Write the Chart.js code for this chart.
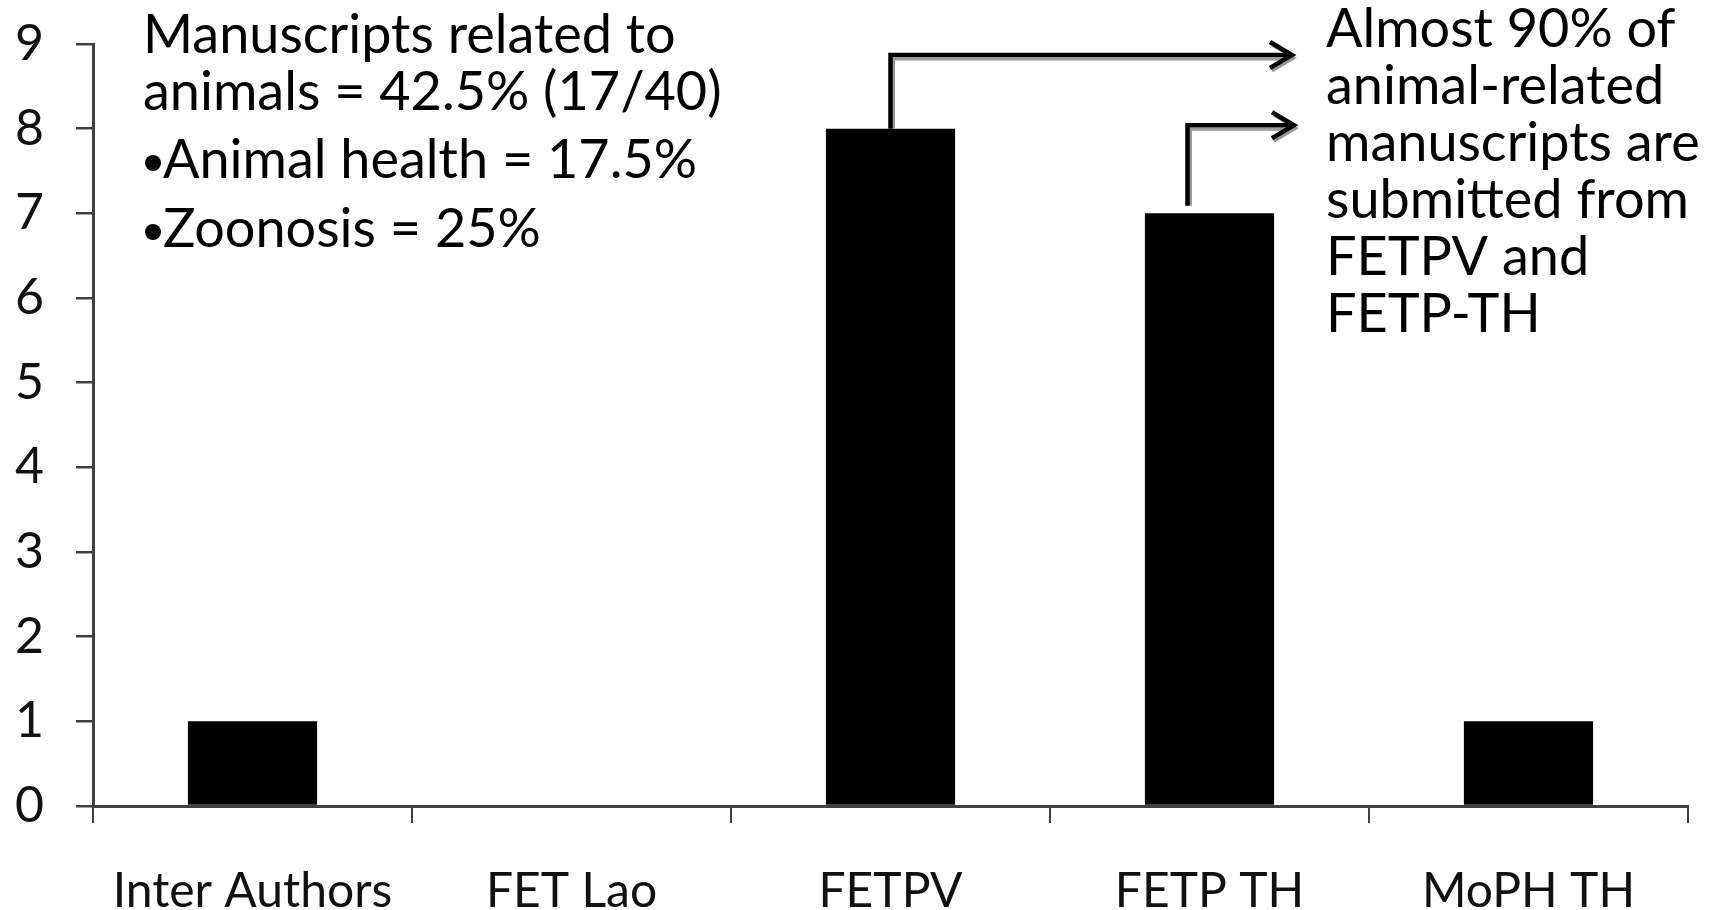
<!DOCTYPE html>
<html>
<head>
<meta charset="utf-8">
<script src="https://cdn.jsdelivr.net/npm/chart.js@4.4.1/dist/chart.umd.min.js"></script>
<style>
  html, body { margin: 0; padding: 0; background: #fff; }
  #wrap { width: 1719px; height: 910px; position: relative; }
</style>
</head>
<body>
<div id="wrap"><canvas id="c"></canvas></div>
<script>
const categories = ['Inter Authors', 'FET Lao', 'FETPV', 'FETP TH', 'MoPH TH'];
const manuscripts = [1, 0, 8, 7, 1];
const yMin = 0, yMax = 9, yStep = 1;
const noteLeft = ['Manuscripts related to', 'animals = 42.5% (17/40)', 'Animal health = 17.5%', 'Zoonosis = 25%'];
const noteLeftBullet = [false, false, true, true];
const noteRight = ['Almost 90% of', 'animal-related', 'manuscripts are', 'submitted from', 'FETPV and', 'FETP-TH'];

const FONT = 'Lato, "Open Sans", sans-serif';
const AXIS = '#404040';

function arrowHead(ctx, x, y) {
  ctx.beginPath();
  ctx.moveTo(x - 22, y - 13);
  ctx.lineTo(x, y);
  ctx.lineTo(x - 22, y + 13);
  ctx.stroke();
}

const annotations = {
  id: 'annotations',
  afterDatasetsDraw(chart) {
    const ctx = chart.ctx;
    const xs = chart.scales.x, ys = chart.scales.y;
    ctx.save();
    ctx.fillStyle = '#000';
    ctx.textBaseline = 'middle';
    ctx.textAlign = 'left';
    ctx.font = '54px ' + FONT;
    const leftY = [36, 93, 161, 230];
    noteLeft.forEach((t, i) => {
      if (noteLeftBullet[i]) {
        ctx.beginPath();
        ctx.arc(153, leftY[i] + 2, 8, 0, Math.PI * 2);
        ctx.fill();
        ctx.fillText(t, 163, leftY[i]);
      } else {
        ctx.fillText(t, 143, leftY[i]);
      }
    });
    noteRight.forEach((t, i) => ctx.fillText(t, 1326, 30 + i * 57));

    const arrows = [
      { cat: 2, dx: 0, from: manuscripts[2], to: 8.87, tip: 1292 },
      { cat: 3, dx: -22, from: manuscripts[3] + 0.09, to: 8.04, tip: 1294 }
    ];
    ctx.lineCap = 'butt';
    ctx.lineJoin = 'miter';
    arrows.forEach(a => {
      const x = xs.getPixelForValue(a.cat) + a.dx;
      const y0 = ys.getPixelForValue(a.from);
      const y1 = ys.getPixelForValue(a.to);
      ctx.strokeStyle = '#9a9a9a';
      ctx.lineWidth = 3;
      ctx.beginPath();
      ctx.moveTo(x + 3, y0);
      ctx.lineTo(x + 3, y1 + 4);
      ctx.lineTo(a.tip - 8, y1 + 4);
      ctx.stroke();
      arrowHead(ctx, a.tip + 2, y1 + 3);
      ctx.strokeStyle = '#000';
      ctx.lineWidth = 4.5;
      ctx.beginPath();
      ctx.moveTo(x, y0);
      ctx.lineTo(x, y1);
      ctx.lineTo(a.tip - 2, y1);
      ctx.stroke();
      arrowHead(ctx, a.tip, y1);
    });
    ctx.restore();
  }
};

new Chart(document.getElementById('c'), {
  type: 'bar',
  data: {
    labels: categories,
    datasets: [{
      data: manuscripts,
      backgroundColor: '#000',
      borderWidth: 0,
      categoryPercentage: 1,
      barPercentage: 0.405
    }]
  },
  options: {
    responsive: true,
    maintainAspectRatio: false,
    animation: false,
    devicePixelRatio: 1,
    layout: { padding: { top: 44, right: 31, left: 0, bottom: 0 } },
    plugins: { legend: { display: false }, tooltip: { enabled: false } },
    scales: {
      x: {
        afterFit(s) { s.height = 104; },
        grid: { offset: true, drawOnChartArea: false, drawTicks: true, tickLength: 17, color: AXIS, lineWidth: 2 },
        border: { color: AXIS, width: 3 },
        ticks: { color: '#111', padding: 40, font: { family: FONT, size: 48 } }
      },
      y: {
        min: yMin, max: yMax,
        afterFit(s) { s.width = 93; s.paddingTop = 0; s.paddingBottom = 0; },
        grid: { drawOnChartArea: false, drawTicks: true, tickLength: 17, color: AXIS, lineWidth: 2.5 },
        border: { color: AXIS, width: 3 },
        ticks: { stepSize: yStep, color: '#111', padding: 32, font: { family: FONT, size: 50, lineHeight: 0.6 } }
      }
    }
  },
  plugins: [annotations]
});
</script>
</body>
</html>
